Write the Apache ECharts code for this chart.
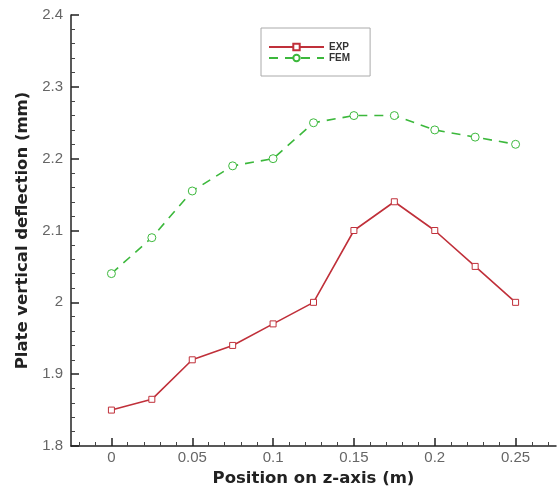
<!DOCTYPE html>
<html><head><meta charset="utf-8">
<script src="https://cdn.jsdelivr.net/npm/echarts@6/dist/echarts.min.js"></script>
<style>html,body{margin:0;padding:0;background:#fff}#c{width:558px;height:488px}</style>
</head><body><div id="c"></div>
<script>
const positions = [0, 0.025, 0.05, 0.075, 0.1, 0.125, 0.15, 0.175, 0.2, 0.225, 0.25];
const expValues = [1.85, 1.865, 1.92, 1.94, 1.97, 2.0, 2.1, 2.14, 2.1, 2.05, 2.0];
const femValues = [2.04, 2.09, 2.155, 2.19, 2.2, 2.25, 2.26, 2.26, 2.24, 2.23, 2.22];
const xMajorTicks = [0, 0.05, 0.1, 0.15, 0.2, 0.25];
const xMinorTicks = [-0.02, -0.01, 0.01, 0.02, 0.03, 0.04, 0.06, 0.07, 0.08, 0.09, 0.11, 0.12, 0.13, 0.14, 0.16, 0.17, 0.18, 0.19, 0.21, 0.22, 0.23, 0.24, 0.26, 0.27];

const chart = echarts.init(document.getElementById('c'));
const axisFont = {fontFamily: 'Liberation Sans', fontSize: 15, color: '#666'};
const titleFont = {fontFamily: 'DejaVu Sans', fontSize: 16.5, fontWeight: 'bold', color: '#222'};
chart.setOption({
  animation: false,
  grid: {left: 71, top: 15, right: 2, bottom: 42, outerBoundsMode: 'none', containLabel: false},
  legend: {
    left: 261, top: 28, width: 104, orient: 'vertical',
    padding: [14, 20, 13, 7], itemGap: 1, itemWidth: 55, itemHeight: 8,
    borderColor: '#aaa', borderWidth: 1,
    textStyle: {fontFamily: 'Liberation Sans', fontSize: 10, fontWeight: 'bold', color: '#333'},
    data: ['EXP', 'FEM']
  },
  xAxis: [{
    type: 'value', min: -0.025, max: 0.275,
    name: 'Position on z-axis (m)', nameLocation: 'middle', nameGap: 19,
    nameTextStyle: titleFont,
    axisLine: {onZero: false, lineStyle: {color: '#222', width: 1.5}},
    axisTick: {inside: true, length: 8, customValues: xMajorTicks, lineStyle: {color: '#222', width: 1.5}},
    axisLabel: Object.assign({customValues: xMajorTicks, margin: 4}, axisFont),
    splitLine: {show: false}
  }, {
    type: 'value', min: -0.025, max: 0.275, position: 'bottom',
    axisLine: {show: false, onZero: false},
    axisTick: {inside: true, length: 4, customValues: xMinorTicks, lineStyle: {color: '#444', width: 1}},
    axisLabel: {show: false},
    splitLine: {show: false}
  }],
  yAxis: {
    type: 'value', min: 1.8, max: 2.4, interval: 0.1,
    name: 'Plate vertical deflection (mm)', nameLocation: 'middle', nameGap: 36,
    nameTextStyle: titleFont,
    axisLine: {show: true, onZero: false, lineStyle: {color: '#222', width: 1.5}},
    axisTick: {show: true, inside: true, length: 8, lineStyle: {color: '#222', width: 1.5}},
    minorTick: {show: true, splitNumber: 5, length: 4, lineStyle: {color: '#444', width: 1}},
    axisLabel: Object.assign({margin: 8}, axisFont),
    splitLine: {show: false}
  },
  series: [{
    name: 'EXP', type: 'line',
    data: positions.map((x, i) => [x, expValues[i]]),
    symbol: 'rect', symbolSize: 6,
    lineStyle: {color: '#c0303a', width: 1.6},
    itemStyle: {color: '#fff', borderColor: '#c0303a', borderWidth: 1},
    color: '#c0303a'
  }, {
    name: 'FEM', type: 'line',
    data: positions.map((x, i) => [x, femValues[i]]),
    symbol: 'circle', symbolSize: 8,
    lineStyle: {color: '#3cb83c', width: 1.6, type: [9, 7]},
    itemStyle: {color: '#fff', borderColor: '#3cb83c', borderWidth: 1},
    color: '#3cb83c'
  }]
});
</script></body></html>
